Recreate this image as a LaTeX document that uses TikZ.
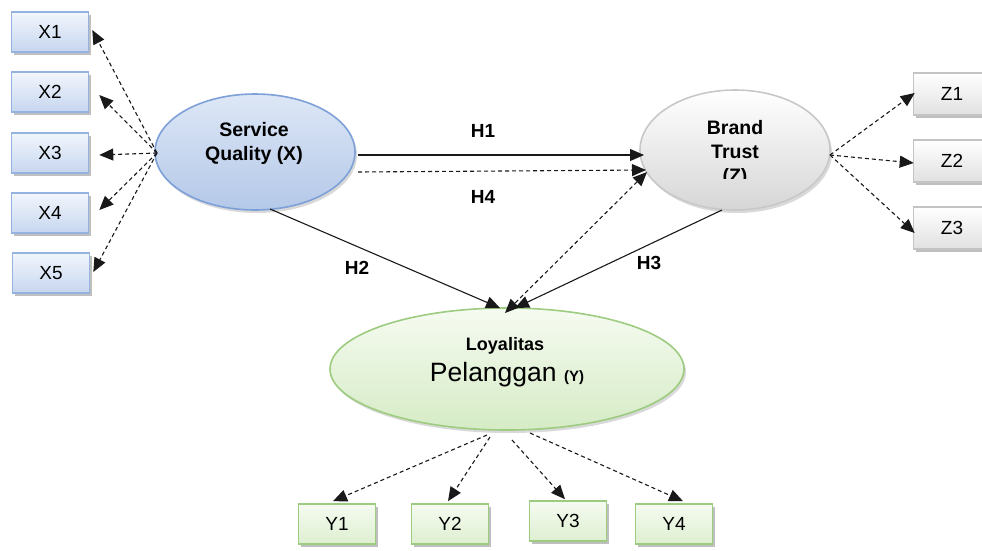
\documentclass[tikz,border=0pt]{standalone}
\usepackage{fontspec}
\setmainfont{Liberation Sans}
\usetikzlibrary{arrows.meta,calc,shapes.geometric,shadows}
\definecolor{bxborder}{HTML}{95B3E0}
\definecolor{bxtop}{HTML}{F2F6FC}
\definecolor{bxbot}{HTML}{C6D6EF}
\definecolor{sqborder}{HTML}{7EA0D8}
\definecolor{sqtop}{HTML}{DDE7F6}
\definecolor{sqbot}{HTML}{B4C8E8}
\definecolor{btborder}{HTML}{C8C8C8}
\definecolor{bttop}{HTML}{FFFFFF}
\definecolor{btbot}{HTML}{D6D6D6}
\definecolor{gnborder}{HTML}{9DCC80}
\definecolor{gntop}{HTML}{F6FBF1}
\definecolor{gnbot}{HTML}{D5EBC5}
\definecolor{gybox}{HTML}{C4C4C4}
\tikzset{
  ind/.style={rectangle, minimum width=77pt, minimum height=40pt, line width=1.6pt,
    font=\fontsize{19}{19}\selectfont,
    drop shadow={shadow xshift=2pt, shadow yshift=-3pt, fill=black, opacity=0.25}},
  xbox/.style={ind, draw=bxborder, top color=bxtop, bottom color=bxbot},
  zbox/.style={ind, draw=gybox, top color=white, bottom color=black!12, minimum height=42pt},
  ybox/.style={ind, draw=gnborder, top color=gntop, bottom color=gnbot!80},
  lat/.style={ellipse, inner sep=0pt, line width=1.6pt,
    drop shadow={shadow xshift=2pt, shadow yshift=-3pt, fill=black, opacity=0.15}},
  lbl/.style={font=\bfseries\fontsize{19.5}{19.5}\selectfont, inner sep=0pt},
  hl/.style={font=\bfseries\fontsize{19}{19}\selectfont, inner sep=0pt},
  head/.tip={Triangle[length=14pt,width=12pt]},
  solidarrow/.style={-head, line width=1.1pt, draw=black!90},
  dasharrow/.style={-head, line width=1.1pt, draw=black!90, dash pattern=on 4pt off 3pt},
}
\begin{document}
\begin{tikzpicture}[x=1pt,y=-1pt]
\useasboundingbox[fill=white] (0,0) rectangle (982,550);

% indicator boxes X
\node[xbox] (x1) at (50,32) {X1};
\node[xbox] (x2) at (50,92) {X2};
\node[xbox] (x3) at (50,153) {X3};
\node[xbox] (x4) at (50,213) {X4};
\node[xbox] (x5) at (51,273) {X5};

% indicator boxes Z
\node[zbox] (z1) at (952,94) {Z1};
\node[zbox] (z2) at (952,161) {Z2};
\node[zbox] (z3) at (952,228) {Z3};

% indicator boxes Y
\node[ybox] (y1) at (337,524) {Y1};
\node[ybox] (y2) at (450,524) {Y2};
\node[ybox] (y3) at (568,521) {Y3};
\node[ybox] (y4) at (674,524) {Y4};

% latent variables
\node[lat, draw=sqborder, top color=sqtop, bottom color=sqbot, minimum width=200pt, minimum height=116pt] (sq) at (255,152) {};
\node[lat, draw=btborder, top color=bttop, bottom color=btbot, minimum width=190pt, minimum height=120pt] (bt) at (735,150) {};
\node[lat, draw=gnborder, top color=gntop, bottom color=gnbot, minimum width=354pt, minimum height=122pt] (ly) at (507,369) {};

% latent labels
\node[lbl] (sqa) at ($(sq.center)+(-1,-22)$) {Service};
\node[lbl] (sqb) at ($(sq.center)+(-1,3)$) {Quality (X)};
\node[lbl] (bta) at ($(bt.center)+(0,-22)$) {Brand};
\node[lbl] (btb) at ($(bt.center)+(0,2)$) {Trust};
\begin{scope}
\clip ($(bt.center)+(-60,18)$) rectangle ($(bt.center)+(60,28)$);
\node[lbl] (btc) at ($(bt.center)+(0,27)$) {(Z)};
\end{scope}
\node[font=\bfseries\fontsize{18}{18}\selectfont, inner sep=0pt] (lya) at ($(ly.center)+(-2,-23)$) {Loyalitas};
\node[inner sep=0pt, anchor=base] (lyb) at ($(ly.center)+(0,12)$) {\fontsize{26.5}{26.5}\selectfont Pelanggan \bfseries\fontsize{15}{15}\selectfont(Y)};

% structural paths
\draw[solidarrow] ($(sq.center)+(103,3)$) -- ($(bt.center)+(-91,5)$);
\draw[dasharrow] ($(sq.center)+(103,20)$) -- ($(bt.center)+(-89,20)$);
\draw[solidarrow] ($(sq.center)+(15,57)$) -- ($(ly.center)+(-7,-61)$);
\draw[solidarrow] ($(bt.center)+(-13,60)$) -- ($(ly.center)+(8,-61)$);
\draw[dasharrow, head-head] ($(bt.center)+(-88,22)$) -- ($(ly.center)+(-2,-56)$);

\node[hl] (h1) at (483,131) {H1};
\node[hl] (h4) at (483,197) {H4};
\node[hl] (h2) at (357,268) {H2};
\node[hl] (h3) at (649,263) {H3};

% measurement paths X
\coordinate (sqw) at ($(sq.center)+(-98,1)$);
\draw[dasharrow] (sqw) -- ($(x1.east)+(3,-2)$);
\draw[dasharrow] (sqw) -- ($(x2.east)+(10,3)$);
\draw[dasharrow] (sqw) -- ($(x3.east)+(10,2)$);
\draw[dasharrow] (sqw) -- ($(x4.east)+(10,-3)$);
\draw[dasharrow] (sqw) -- ($(x5.east)+(3,-1)$);

% measurement paths Z
\coordinate (bte) at ($(bt.center)+(95,5)$);
\draw[dasharrow] (bte) -- ($(z1.west)+(2,-1)$);
\draw[dasharrow] (bte) -- ($(z2.west)+(1,2)$);
\draw[dasharrow] (bte) -- ($(z3.west)+(2,5)$);

% measurement paths Y
\draw[dasharrow] ($(ly.center)+(-20,66)$) -- ($(y1.north)+(-4,-2)$);
\draw[dasharrow] ($(ly.center)+(-17,68)$) -- ($(y2.north)+(-2,-2)$);
\draw[dasharrow] ($(ly.center)+(5,71)$) -- ($(y3.north)+(-3,-1)$);
\draw[dasharrow] ($(ly.center)+(23,64)$) -- ($(y4.north)+(9,-2)$);
\end{tikzpicture}
\end{document}
